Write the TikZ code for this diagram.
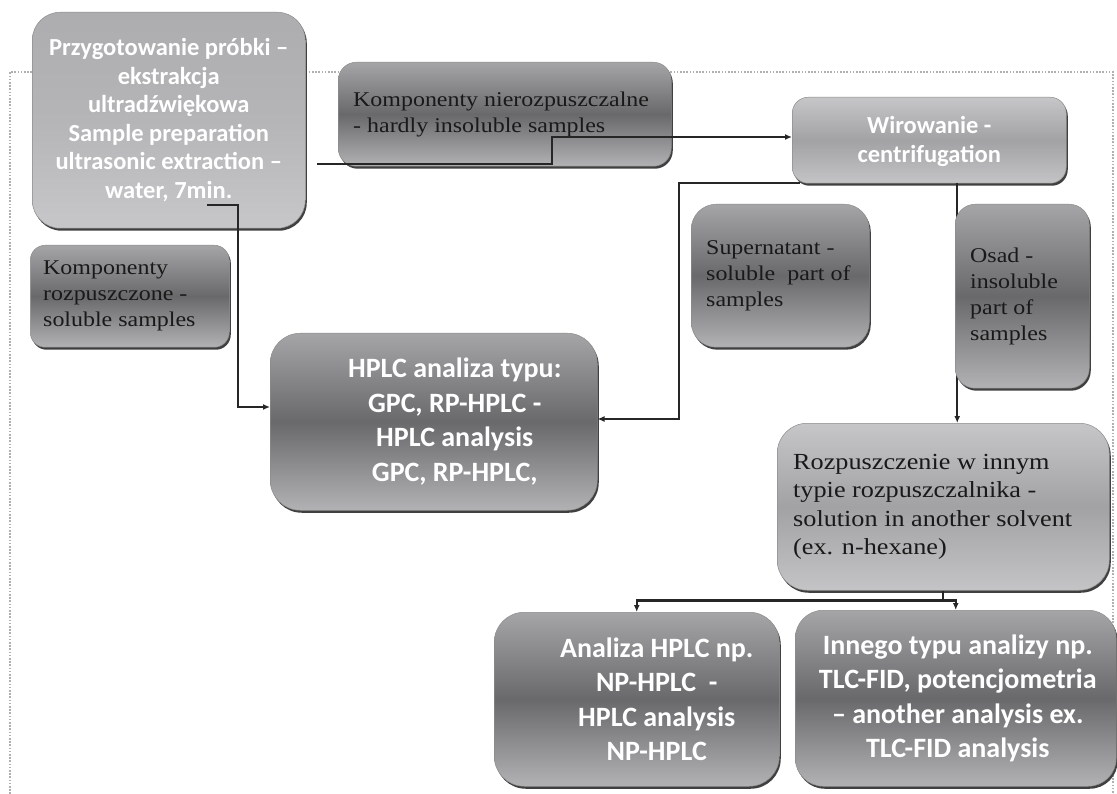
\documentclass[tikz,border=0pt]{standalone}
\usepackage{fontspec}
\newfontfamily\carlito{Carlito}
\newfontfamily\palserif[FakeStretch=1.14]{Liberation Serif}
\usetikzlibrary{shadows,arrows.meta}
\definecolor{dtop}{HTML}{A5A5A7}
\definecolor{dmid}{HTML}{69696B}
\definecolor{dbot}{HTML}{B2B2B4}
\definecolor{ltop}{HTML}{C6C6C8}
\definecolor{lmid}{HTML}{A2A2A4}
\definecolor{lbot}{HTML}{C4C4C6}
\definecolor{ptop}{HTML}{ADADAF}
\definecolor{pmid}{HTML}{B5B5B7}
\definecolor{pbot}{HTML}{C7C7C9}
\definecolor{framegray}{HTML}{B0B0B0}
\begin{document}
\begin{tikzpicture}[x=1pt,y=-1pt,
  bx/.style={rectangle, rounded corners=#1, inner sep=0pt, anchor=north west,
    draw=black!45, line width=0.5pt,
    drop shadow={shadow xshift=1.5pt, shadow yshift=-2.5pt, fill=black!75, opacity=1}},
  darkbx/.style={bx=#1, top color=dtop, bottom color=dbot, middle color=dmid},
  lightbx/.style={bx=#1, top color=ltop, bottom color=lbot, middle color=lmid},
  pbx/.style={bx=#1, top color=ptop, bottom color=pbot, middle color=pmid},
  sansA/.style={font=\carlito\bfseries\fontsize{24.5}{28.5}\selectfont, text=white, align=center, inner sep=0pt},
  sansB/.style={font=\carlito\bfseries\fontsize{28}{34.5}\selectfont, text=white, align=center, inner sep=0pt},
  serA/.style={font=\palserif\fontsize{21}{26}\selectfont, text=black!90, align=left, inner sep=0pt, anchor=west},
  serB/.style={font=\palserif\fontsize{23}{28.5}\selectfont, text=black!90, align=left, inner sep=0pt, anchor=west},
  conn/.style={line width=2.1pt, draw=black!85},
  arr/.style={conn, -{Latex[length=7pt,width=6pt]}},
  framed/.style={draw=framegray, line width=1.1pt, dash pattern=on 1.6pt off 1.6pt}
]
\fill[white] (0,0) rectangle (1117,794);
\useasboundingbox (0,0) rectangle (1117,794);

% dotted frame
\draw[framed] (10,794) -- (10,72) -- (1113,72) -- (1113,794);

% boxes
\node[pbx=28pt, minimum width=273pt, minimum height=216pt] (P) at (32,12) {};
\node[darkbx=18pt, minimum width=333pt, minimum height=104pt] (KN) at (338,62) {};
\node[lightbx=16pt, minimum width=274pt, minimum height=86pt] (W) at (792,97) {};

% centrifugation -> dissolution (behind the Osad box)
\draw[arr] ([xshift=28pt]W.south) -- ([xshift=28pt]W.south |- 0,423);

\node[darkbx=15pt, minimum width=199pt, minimum height=102pt] (KR) at (30,245) {};
\node[darkbx=25pt, minimum width=178pt, minimum height=143pt] (S) at (691,204) {};
\node[darkbx=20pt, minimum width=134pt, minimum height=184pt] (O) at (955,204) {};
\node[darkbx=30pt, minimum width=327pt, minimum height=177pt] (H) at (270,333) {};
\node[lightbx=30pt, minimum width=332pt, minimum height=167pt] (R) at (777,423) {};
\node[darkbx=30pt, minimum width=285pt, minimum height=174pt] (An) at (494,612) {};
\node[darkbx=28pt, minimum width=321pt, minimum height=176pt] (In) at (795,610) {};

% texts
\node[sansA] (Pt) at (P.center) {Przygotowanie próbki –\\ekstrakcja\\ultradźwiękowa\\Sample preparation\\ultrasonic extraction –\\water, 7min.};
\node[serA] (KNt) at ([xshift=15pt]KN.west) {Komponenty nierozpuszczalne\\- hardly insoluble samples};
\node[sansA] (Wt) at ([yshift=-1pt]W.center) {Wirowanie -\\centrifugation};
\node[serA] (KRt) at ([xshift=13pt]KR.west) {Komponenty\\rozpuszczone -\\soluble samples};
\node[serA] (St) at ([xshift=15pt]S.west) {Supernatant -\\soluble\ \ part of\\samples};
\node[serA] (Ot) at ([xshift=15pt]O.west) {Osad -\\insoluble\\part of\\samples};
\node[sansB] (Ht) at ([xshift=21pt]H.center) {HPLC analiza typu:\\GPC, RP-HPLC -\\HPLC analysis\\GPC, RP-HPLC,};
\node[serB] (Rt) at ([xshift=16pt]R.west) {Rozpuszczenie w innym\\typie rozpuszczalnika -\\solution in another solvent\\(ex. n-hexane)};
\node[sansB] (Ant) at ([xshift=20pt]An.center) {Analiza HPLC np.\\NP-HPLC\ \ -\\HPLC analysis\\NP-HPLC};
\node[sansB] (Int) at ([xshift=2pt]In.center) {Innego typu analizy np.\\TLC-FID, potencjometria\\– another analysis ex.\\TLC-FID analysis};

% connectors
\coordinate (a1) at (317,164);
\coordinate (a2) at (207,205);
\coordinate (a3) at (800,183);
\draw[arr] (a1) -- (552,164) -- (552,137) -- (W.west |- 0,137);
\draw[arr] (a2) -- (238,205) -- (238,407) -- (H.west |- 0,407);
\draw[arr] (a3) -- (679,183) -- (679,419) -- (H.east |- 0,419);
\draw[conn] (R.south) -- ++(0,10) coordinate (rj);
\draw[arr] (rj) -| (An.north);
\draw[arr] (rj) -| (In.north);
\end{tikzpicture}
\end{document}
